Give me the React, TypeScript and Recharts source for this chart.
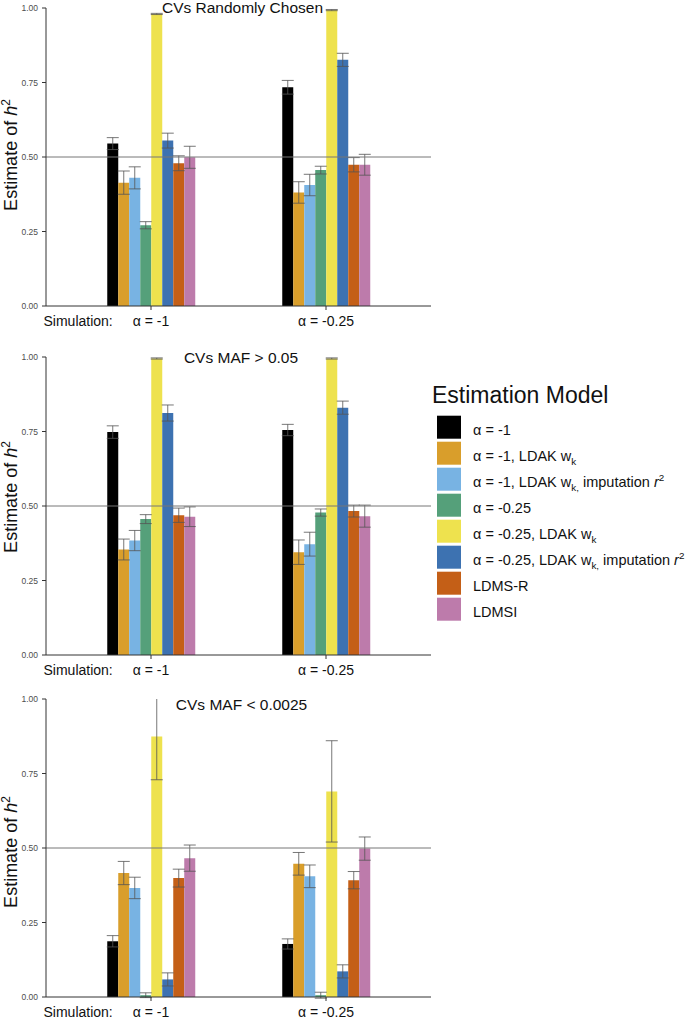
import { Bar, BarChart, ErrorBar, ReferenceLine, XAxis, YAxis } from "recharts";

// simulation scenarios (x categories)
const simulations = ["α = -1", "α = -0.25"];

// estimation models, legend order; _{..} sub, ^{..} sup, *..* italic
const modelLabels = [
  "α = -1",
  "α = -1, LDAK w_{k}",
  "α = -1, LDAK w_{k,} imputation *r*^{2}",
  "α = -0.25",
  "α = -0.25, LDAK w_{k}",
  "α = -0.25, LDAK w_{k,} imputation *r*^{2}",
  "LDMS-R",
  "LDMSI",
];
const modelColors = [
  "#000000",
  "#D99E2B",
  "#78B3E3",
  "#55A07A",
  "#EEE24E",
  "#3D72B1",
  "#C45F17",
  "#BD7BAB",
];

const panelTitles = ["CVs Randomly Chosen", "CVs MAF > 0.05", "CVs MAF < 0.0025"];
const yTicks = [0, 0.25, 0.5, 0.75, 1];

// rows = model, columns = simulation
const randomEst = [
  [0.545, 0.734],
  [0.414, 0.381],
  [0.43, 0.406],
  [0.271, 0.456],
  [0.98, 0.993],
  [0.555, 0.826],
  [0.479, 0.474],
  [0.499, 0.474],
];
const randomErr = [
  [0.02, 0.023],
  [0.039, 0.036],
  [0.037, 0.036],
  [0.012, 0.013],
  [0.002, 0.002],
  [0.025, 0.022],
  [0.025, 0.024],
  [0.037, 0.035],
];

const commonEst = [
  [0.748, 0.755],
  [0.354, 0.345],
  [0.384, 0.372],
  [0.456, 0.478],
  [0.995, 0.995],
  [0.812, 0.83],
  [0.469, 0.483],
  [0.464, 0.466],
];
const commonErr = [
  [0.021, 0.019],
  [0.035, 0.041],
  [0.034, 0.04],
  [0.015, 0.012],
  [0.002, 0.002],
  [0.027, 0.022],
  [0.024, 0.02],
  [0.033, 0.037],
];

const rareEst = [
  [0.187, 0.178],
  [0.416, 0.447],
  [0.366, 0.405],
  [0.006, 0.006],
  [0.874, 0.69],
  [0.059, 0.086],
  [0.399, 0.392],
  [0.466, 0.498],
];
const rareErr = [
  [0.019, 0.017],
  [0.039, 0.038],
  [0.036, 0.038],
  [0.008, 0.01],
  [0.145, 0.17],
  [0.022, 0.022],
  [0.03, 0.029],
  [0.044, 0.039],
];

const FONT = '"Liberation Sans", Arial, sans-serif';
const AXIS = "#333333";

function richParts(label: string) {
  return label
    .split(/(_\{[^}]*\}|\^\{[^}]*\}|\*[^*]*\*)/)
    .filter(Boolean)
    .map((s) => {
      if (s.startsWith("_{")) return { text: s.slice(2, -1), kind: "sub" };
      if (s.startsWith("^{")) return { text: s.slice(2, -1), kind: "sup" };
      if (s.startsWith("*")) return { text: s.slice(1, -1), kind: "it" };
      return { text: s, kind: "plain" };
    });
}

function RichText({ x, y, label, fontSize }: { x: number; y: number; label: string; fontSize: number }) {
  let shift = 0;
  return (
    <text x={x} y={y} fontSize={fontSize} fill="#111" style={{ whiteSpace: "pre" }}>
      {richParts(label).map((p, i) => {
        const target = p.kind === "sub" ? 4 : p.kind === "sup" ? -6 : 0;
        const dy = target - shift;
        shift = target;
        const small = p.kind === "sub" || p.kind === "sup";
        return (
          <tspan
            key={i}
            dy={dy}
            fontSize={small ? fontSize * 0.68 : fontSize}
            fontStyle={p.kind === "it" ? "italic" : "normal"}
          >
            {p.text}
          </tspan>
        );
      })}
    </text>
  );
}

function SimTick(props: any) {
  const { x, y, payload } = props;
  return (
    <g>
      {payload.value === simulations[0] && (
        <text x={x - 107.5} y={y} dy="0.71em" fontSize={14} fill="#111" textAnchor="start">
          Simulation:
        </text>
      )}
      <text x={x} y={y} dy="0.71em" fontSize={14} fill="#111" textAnchor="middle">
        {payload.value}
      </text>
    </g>
  );
}

// hide error-bar overshoot above the plot top (ggplot clips to the 0..1 scale)
const plotClip = "polygon(0 0, 46px 0, 46px 8px, 431px 8px, 431px 336px, 0 336px)";

function Panel({ est, err, top }: { est: number[][]; err: number[][]; top: number }) {
  const rows = simulations.map((sim, j) => {
    const row: Record<string, string | number> = { sim };
    modelLabels.forEach((_, i) => {
      row[`m${i}`] = est[i][j];
      row[`e${i}`] = err[i][j];
    });
    return row;
  });
  return (
    <div style={{ position: "absolute", left: 0, top, clipPath: plotClip }}>
      <BarChart
        width={431}
        height={336}
        data={rows}
        margin={{ top: 8, right: 0, bottom: 0, left: 0 }}
        barCategoryGap="25%"
        barGap={0}
      >
        <XAxis
          dataKey="sim"
          padding={{ left: 17.5, right: 17.5 }}
          height={30}
          tickSize={4}
          tickMargin={6}
          stroke={AXIS}
          tick={<SimTick />}
          interval={0}
        />
        <YAxis
          type="number"
          domain={[0, 1]}
          ticks={yTicks}
          allowDataOverflow
          width={46}
          tickSize={4}
          tickMargin={4}
          stroke={AXIS}
          tick={{ fontSize: 8.5, fill: "#4d4d4d" }}
          tickFormatter={(v: number) => v.toFixed(2)}
        />
        {modelLabels.map((_, i) => (
          <Bar key={i} dataKey={`m${i}`} fill={modelColors[i]} isAnimationActive={false}>
            <ErrorBar
              dataKey={`e${i}`}
              direction="y"
              width={6}
              stroke="#555"
              strokeOpacity={0.8}
              strokeWidth={1}
              isAnimationActive={false}
            />
          </Bar>
        ))}
        <ReferenceLine y={0.5} stroke="#777" strokeWidth={1} />
      </BarChart>
    </div>
  );
}

const panelTops = [0, 349, 691];
const titlePos = [
  { x: 242.5, y: 12.5 },
  { x: 241, y: 363 },
  { x: 241.5, y: 710 },
];
const yLabelCenters = [155, 497, 852];

export default function App() {
  const panels = [
    { est: randomEst, err: randomErr },
    { est: commonEst, err: commonErr },
    { est: rareEst, err: rareErr },
  ];
  return (
    <>
      <style>{"body { margin: 0; }"}</style>
      <div
        style={{
          position: "relative",
          width: 694,
          height: 1020,
          background: "#fff",
          fontFamily: FONT,
        }}
      >
        {panels.map((p, k) => (
          <Panel key={k} est={p.est} err={p.err} top={panelTops[k]} />
        ))}
        <svg
          width={694}
          height={1020}
          style={{ position: "absolute", left: 0, top: 0, pointerEvents: "none", fontFamily: FONT }}
        >
          {panelTitles.map((t, k) => (
            <text key={t} x={titlePos[k].x} y={titlePos[k].y} fontSize={15.5} fill="#111" textAnchor="middle">
              {t}
            </text>
          ))}
          {yLabelCenters.map((cy, k) => (
            <text
              key={k}
              transform={`translate(16.5, ${cy}) rotate(-90)`}
              fontSize={18}
              fill="#111"
              textAnchor="middle"
            >
              Estimate of <tspan fontStyle="italic">h</tspan>
              <tspan dy={-7} fontSize={12}>
                2
              </tspan>
            </text>
          ))}
          <text x={432} y={403} fontSize={23} fill="#111">
            Estimation Model
          </text>
          {modelLabels.map((label, i) => (
            <g key={label}>
              <rect x={437} y={415.7 + i * 26} width={24} height={23} fill={modelColors[i]} />
              <RichText x={473} y={434.7 + i * 26} label={label} fontSize={14.5} />
            </g>
          ))}
        </svg>
      </div>
    </>
  );
}
